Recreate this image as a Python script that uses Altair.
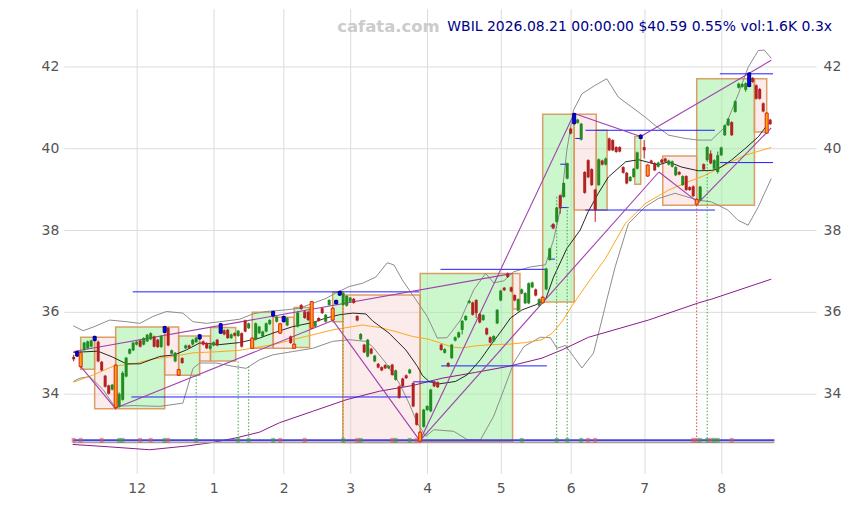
import altair as alt
import pandas as pd

# ---------------- candles (trading-day index 0..199, 2025-11-04 .. 2026-08-21) ----------------
opens = [
    34.90, 34.92, 35.00, 35.07, 35.11, 35.15, 35.30, 35.27, 34.78, 34.44,
    34.20, 34.10, 34.70, 33.69, 33.85, 34.42, 34.98, 35.06, 35.20, 35.30,
    35.20, 35.28, 35.33, 35.40, 35.32, 35.14, 35.50, 35.61, 34.98, 34.79,
    34.59, 34.87, 35.11, 35.18, 35.20, 35.26, 35.34, 35.28, 35.24, 35.10,
    35.18, 35.32, 35.48, 35.55, 35.56, 35.36, 35.48, 35.41, 35.48, 35.79,
    35.60, 35.36, 35.32, 35.48, 35.40, 35.52, 35.70, 35.90, 35.76, 35.71,
    35.76, 35.67, 35.40, 35.21, 35.64, 36.17, 36.01, 36.00, 36.25, 35.64,
    35.85, 36.09, 35.76, 36.17, 36.09, 36.20, 36.41, 36.17, 36.15, 36.25,
    36.32, 35.90, 35.33, 35.20, 34.91, 35.10, 34.79, 34.73, 34.65, 34.70,
    34.62, 34.71, 34.34, 34.18, 34.37, 34.45, 34.50, 34.26, 33.52, 33.06,
    33.19, 33.60, 33.57, 34.28, 34.28, 35.20, 35.00, 34.75, 34.87, 35.30,
    35.38, 35.56, 35.80, 36.22, 36.23, 36.29, 35.95, 35.80, 35.60, 35.38,
    35.28, 35.72, 36.28, 36.59, 36.94, 36.60, 36.41, 36.03, 36.45, 36.21,
    36.21, 36.60, 36.55, 36.15, 36.36, 36.55, 37.27, 38.15, 38.20, 38.85,
    38.81, 39.26, 40.48, 40.60, 40.62, 40.21, 39.42, 39.71, 39.49, 38.99,
    39.10, 39.70, 39.60, 40.24, 40.20, 40.03, 40.03, 39.54, 39.40, 39.20,
    39.30, 39.50, 40.24, 40.03, 39.59, 39.70, 39.64, 39.55, 39.72, 39.75,
    39.60, 39.55, 39.34, 39.42, 39.10, 39.32, 39.05, 39.07, 38.75, 38.73,
    39.61, 39.71, 39.87, 39.50, 39.42, 39.83, 40.32, 40.56, 40.64, 40.89,
    41.48, 41.50, 41.43, 41.51, 41.72, 41.54, 41.45, 41.10, 40.86, 40.70,
]
closes = [
    34.84, 35.03, 34.66, 35.25, 35.28, 35.30, 35.40, 34.79, 34.57, 34.17,
    34.00, 34.22, 33.66, 34.00, 34.51, 34.88, 35.09, 35.25, 35.27, 35.15,
    35.36, 35.44, 35.48, 35.15, 35.14, 35.41, 35.64, 35.18, 35.06, 35.00,
    34.45, 34.75, 35.18, 35.12, 35.32, 35.37, 35.44, 35.20, 35.11, 35.18,
    35.26, 35.18, 35.71, 35.45, 35.36, 35.45, 35.42, 35.54, 35.15, 35.52,
    35.72, 35.11, 35.72, 35.64, 35.52, 35.72, 35.80, 36.01, 35.88, 35.48,
    35.89, 35.85, 35.24, 35.11, 35.99, 36.07, 35.85, 35.80, 35.60, 35.76,
    35.78, 35.97, 35.93, 36.29, 35.80, 36.28, 36.50, 36.46, 36.39, 36.35,
    36.22, 35.79, 35.46, 35.01, 35.32, 34.98, 34.93, 34.64, 34.57, 34.62,
    34.68, 34.46, 34.57, 33.90, 34.18, 34.38, 34.59, 33.69, 33.24, 32.84,
    33.61, 33.70, 34.10, 34.18, 34.16, 35.07, 35.09, 34.67, 35.20, 35.38,
    35.50, 35.78, 35.90, 36.27, 35.93, 35.97, 35.74, 35.92, 35.45, 35.25,
    35.41, 36.05, 36.52, 36.53, 36.85, 36.50, 36.28, 36.31, 36.55, 36.46,
    36.70, 36.72, 36.40, 36.31, 36.22, 37.06, 37.55, 38.04, 38.55, 38.53,
    39.15, 39.63, 40.36, 40.85, 40.70, 40.60, 38.91, 39.29, 39.10, 38.49,
    39.73, 39.60, 39.75, 39.95, 39.95, 39.91, 39.92, 39.40, 39.14, 39.30,
    39.50, 39.90, 40.32, 39.95, 39.32, 39.64, 39.46, 39.65, 39.65, 39.67,
    39.70, 39.68, 39.54, 39.36, 39.32, 38.98, 38.98, 38.83, 38.63, 39.06,
    39.48, 40.03, 39.63, 39.71, 39.83, 40.02, 40.56, 40.72, 40.32, 41.15,
    41.58, 41.57, 41.59, 41.84, 41.62, 41.21, 41.21, 40.90, 40.37, 40.59,
]
highs = [
    34.95, 35.05, 35.02, 35.27, 35.30, 35.32, 35.42, 35.30, 34.80, 34.46,
    34.22, 34.24, 34.72, 34.03, 34.55, 34.90, 35.11, 35.27, 35.29, 35.33,
    35.38, 35.46, 35.50, 35.42, 35.34, 35.43, 35.66, 35.63, 35.08, 35.02,
    34.61, 34.89, 35.20, 35.20, 35.34, 35.39, 35.46, 35.30, 35.26, 35.20,
    35.28, 35.34, 35.73, 35.57, 35.58, 35.47, 35.50, 35.56, 35.50, 35.81,
    35.74, 35.38, 35.74, 35.66, 35.54, 35.74, 35.82, 36.03, 35.90, 35.73,
    35.91, 35.87, 35.42, 35.23, 36.01, 36.19, 36.03, 36.02, 36.27, 35.78,
    35.87, 36.11, 35.95, 36.31, 36.11, 36.30, 36.52, 36.48, 36.41, 36.37,
    36.34, 35.92, 35.48, 35.22, 35.34, 35.12, 34.95, 34.75, 34.67, 34.72,
    34.70, 34.73, 34.59, 34.20, 34.39, 34.47, 34.61, 34.28, 33.54, 33.08,
    33.63, 33.72, 34.12, 34.30, 34.30, 35.22, 35.11, 34.77, 35.22, 35.40,
    35.52, 35.80, 35.92, 36.29, 36.25, 36.31, 35.97, 35.94, 35.62, 35.40,
    35.43, 36.07, 36.54, 36.61, 36.96, 36.62, 36.43, 36.33, 36.57, 36.48,
    36.72, 36.74, 36.57, 36.33, 36.38, 37.08, 37.57, 38.17, 38.57, 38.87,
    39.17, 39.65, 40.50, 40.87, 40.72, 40.62, 39.44, 39.73, 39.51, 39.01,
    39.75, 39.72, 39.77, 40.26, 40.22, 40.05, 40.05, 39.56, 39.42, 39.32,
    39.52, 39.92, 40.34, 40.20, 39.61, 39.72, 39.66, 39.67, 39.74, 39.77,
    39.72, 39.70, 39.56, 39.44, 39.34, 39.34, 39.07, 39.09, 38.77, 39.08,
    39.63, 40.05, 39.95, 39.73, 39.92, 40.04, 40.58, 40.74, 40.66, 41.17,
    41.60, 41.59, 41.61, 41.86, 41.74, 41.56, 41.47, 41.12, 40.88, 40.72,
]
lows = [
    34.79, 34.90, 34.64, 35.05, 35.09, 35.13, 35.28, 34.77, 34.55, 34.15,
    33.98, 34.08, 33.62, 33.66, 33.83, 34.40, 34.96, 35.04, 35.18, 35.13,
    35.18, 35.26, 35.31, 35.13, 35.12, 35.12, 35.48, 35.16, 34.96, 34.77,
    34.44, 34.73, 35.09, 35.10, 35.18, 35.24, 35.32, 35.18, 35.09, 35.08,
    35.16, 35.16, 35.46, 35.43, 35.34, 35.34, 35.40, 35.39, 35.13, 35.50,
    35.58, 35.10, 35.30, 35.46, 35.38, 35.50, 35.68, 35.88, 35.74, 35.46,
    35.74, 35.65, 35.22, 35.10, 35.62, 36.05, 35.83, 35.78, 35.58, 35.62,
    35.76, 35.95, 35.74, 36.15, 35.78, 36.18, 36.39, 36.15, 36.13, 36.23,
    36.20, 35.77, 35.31, 34.99, 34.89, 34.96, 34.77, 34.62, 34.55, 34.60,
    34.60, 34.44, 34.32, 33.88, 34.16, 34.36, 34.48, 33.67, 33.22, 32.82,
    33.17, 33.58, 33.55, 34.16, 34.14, 35.05, 34.98, 34.65, 34.85, 35.28,
    35.36, 35.45, 35.78, 36.20, 35.91, 35.85, 35.72, 35.78, 35.43, 35.23,
    35.26, 35.70, 36.26, 36.51, 36.83, 36.48, 36.26, 36.01, 36.43, 36.19,
    36.19, 36.58, 36.38, 36.13, 36.21, 36.53, 37.25, 38.02, 38.18, 38.40,
    38.79, 39.24, 40.34, 40.58, 40.60, 40.19, 38.89, 39.27, 39.08, 38.20,
    39.08, 39.58, 39.58, 39.93, 39.93, 39.89, 39.90, 39.38, 39.12, 39.18,
    39.28, 39.48, 40.22, 39.75, 39.30, 39.62, 39.44, 39.53, 39.63, 39.65,
    39.58, 39.53, 39.32, 39.34, 39.08, 38.96, 38.96, 38.81, 38.61, 38.71,
    39.46, 39.69, 39.61, 39.48, 39.38, 39.81, 40.30, 40.54, 40.30, 40.87,
    41.46, 41.48, 41.38, 41.49, 41.60, 41.19, 41.19, 40.88, 40.35, 40.57,
]
peak_idx = [1, 6, 26, 36, 42, 57, 60, 75, 76, 143, 162, 193]
trough_idx = [2, 12, 30, 51, 59, 63, 68, 74, 99, 134, 164, 178, 198]

# ---------------- axes ----------------
tick_idx = [18, 40, 60, 79, 101, 122, 142, 163, 185]
tick_lab = ["12", "1", "2", "3", "4", "5", "6", "7", "8"]
y_ticks = [34, 36, 38, 40, 42]

# ---------------- moving averages / bands (index, value) ----------------
ma_fast_i = [-0.1, 6.9, 11, 15.1, 18.9, 24.6, 28.8, 32.2, 36, 41.7, 47.4, 53.1, 56.9, 62.6, 68.3, 72.1, 75.9,
             79.7, 83.5, 85.4, 90.1, 94.9, 98.2, 99.6, 101.5, 104.4, 109.1, 112.4, 116.2, 119.6, 122.4, 124.8,
             128.1, 131.9, 134.8, 137.1, 140.9, 144.7, 147, 149.9, 152.8, 157.7, 161.4, 164.5, 167, 169.9,
             173.7, 178.5, 182.3, 184.2, 187.9, 191.8, 195.6, 198.4, 199]
ma_fast_v = [35.01, 35.04, 34.90, 34.73, 34.73, 34.91, 34.95, 35.07, 35.24, 35.20, 35.25, 35.36, 35.48, 35.64,
             35.74, 35.85, 35.93, 35.97, 35.95, 35.78, 35.48, 35.07, 34.67, 34.45, 34.30, 34.24, 34.30, 34.46,
             34.83, 35.24, 35.56, 35.85, 36.05, 36.17, 36.30, 36.85, 37.55, 38.00, 38.45, 38.90, 39.30, 39.67,
             39.72, 39.65, 39.59, 39.67, 39.54, 39.45, 39.46, 39.50, 39.71, 39.99, 40.28, 40.60, 40.65]
ma_mid_i = [-0.1, 5.6, 11.3, 17, 22.7, 28.4, 34.1, 39.8, 47.4, 56.9, 66.4, 74, 79.7, 82.5, 87.3, 92, 96.8,
            101.5, 108.2, 111, 114.8, 119.6, 124.3, 129.1, 133.8, 136.7, 139.5, 142.4, 145.2, 148.9, 151.9,
            157.6, 163.3, 170, 175.6, 180.4, 186.1, 191.8, 199.3]
ma_mid_v = [34.28, 34.46, 34.67, 34.73, 34.85, 34.91, 35.00, 35.02, 35.06, 35.20, 35.40, 35.56, 35.64, 35.68,
            35.62, 35.52, 35.40, 35.33, 35.14, 35.12, 35.17, 35.20, 35.21, 35.25, 35.32, 35.48, 35.76, 36.15,
            36.50, 36.95, 37.30, 38.16, 38.65, 38.98, 39.18, 39.34, 39.59, 39.83, 40.02]
ma_slow_i = [-0.3, 10.3, 21.7, 32.2, 39.8, 46.4, 53.1, 58.8, 68.3, 77.8, 87.3, 96.8, 105.3, 114.8, 124.3,
             133.8, 139.5, 147.1, 164.2, 178.5, 182.2, 199.3]
ma_slow_v = [32.76, 32.70, 32.63, 32.72, 32.81, 32.92, 33.06, 33.29, 33.57, 33.85, 34.06, 34.20, 34.38, 34.52,
             34.67, 34.87, 35.07, 35.38, 35.80, 36.22, 36.31, 36.80]
bb_up_i = [-0.1, 2.7, 5.6, 10.3, 15.1, 18.9, 22.7, 26.5, 31.2, 34.1, 37.9, 41.7, 47.4, 51.2, 55, 60.7, 64.5,
           68.3, 72.1, 74.9, 78.7, 82.5, 86.3, 89.6, 91.5, 93.9, 97.2, 101, 103.9, 106.7, 110.5, 114.3, 117.7,
           120, 122.9, 125.7, 130.5, 134.8, 137.1, 139, 140.9, 142.8, 145.2, 149, 152.3, 155.6, 159.4, 163.3,
           166.1, 170, 174.7, 178.5, 182.2, 186.1, 189.9, 192.7, 195.6, 197.3, 199.3]
bb_up_v = [35.66, 35.54, 35.63, 35.80, 35.76, 35.72, 35.89, 36.01, 35.97, 35.76, 35.72, 35.76, 35.82, 35.95,
           36.01, 36.05, 36.09, 36.21, 36.33, 36.46, 36.62, 36.70, 36.85, 37.20, 37.15, 36.78, 36.37, 35.89,
           35.36, 35.37, 35.80, 36.54, 36.94, 36.71, 36.76, 36.98, 37.10, 37.15, 37.76, 38.49, 39.95, 40.93,
           41.33, 41.54, 41.70, 41.25, 41.01, 40.76, 40.56, 40.32, 40.24, 40.20, 40.20, 40.52, 41.33, 41.98,
           42.39, 42.40, 42.20]
bb_lo_i = [-0.1, 1.8, 4.6, 8.4, 11.7, 17, 24.6, 31.2, 34.1, 36, 40.7, 45.5, 49.3, 53.1, 56.9, 62.6, 68.3, 74,
           78.7, 83.5, 85.4, 89.2, 93, 95.8, 98.2, 100.6, 102.9, 108.6, 112.4, 116.2, 120, 122.9, 125.7, 128.6,
           133.3, 136.2, 138.1, 140.5, 142.8, 145.2, 148.5, 151.4, 152.3, 154.7, 158.5, 163.3, 167, 171.8,
           178.5, 182.2, 186.9, 189.8, 192.7, 195.6, 199.3]
bb_lo_v = [34.30, 34.38, 34.42, 34.10, 33.69, 33.71, 33.69, 33.77, 34.62, 34.75, 34.75, 34.67, 34.62, 34.83,
           34.95, 35.03, 35.11, 35.28, 35.32, 35.28, 35.15, 34.75, 34.26, 33.77, 33.28, 32.96, 33.12, 33.08,
           32.88, 32.87, 33.45, 34.10, 34.75, 35.15, 35.38, 35.37, 35.11, 35.18, 34.91, 34.63, 34.99, 35.97,
           36.29, 37.10, 38.16, 38.57, 38.77, 38.90, 38.73, 38.69, 38.49, 38.24, 38.12, 38.57, 39.26]

# ---------------- swing boxes ----------------
box_x1 = [2, 6, 12, 26, 30, 36, 39.1, 51, 57, 63, 74, 76.9, 99, 125.4, 134, 143, 149.3, 160.3, 168.3, 178, 194.5]
box_x2 = [6, 12, 26, 30, 36, 39.1, 46.3, 57, 63, 67.4, 76.9, 99, 125.4, 127.5, 143, 149.3, 152.4, 162, 178, 194.5, 198]
box_lo = [34.60, 33.63, 33.63, 34.46, 34.45, 34.80, 34.80, 35.11, 35.11, 35.13, 35.76, 32.81, 32.84, 36.07,
          36.24, 38.49, 38.49, 39.12, 38.61, 38.61, 40.40]
box_hi = [35.38, 35.38, 35.63, 35.63, 35.41, 35.41, 35.62, 35.99, 35.87, 36.11, 36.48, 36.41, 36.94, 36.94,
          40.83, 40.83, 40.44, 40.29, 39.81, 41.70, 41.70]
box_dir = ["up", "down", "up", "down", "up", "down", "up", "up", "down", "up", "up", "down", "up", "down",
           "up", "down", "up", "up", "down", "up", "down"]

# ---------------- support / resistance levels ----------------
hl_y = [36.49, 33.92, 34.29, 34.68, 37.04, 40.44, 38.49, 41.82, 39.65, 39.61, 38.55, 38.10, 37.29, 40.24]
hl_x1 = [16.9, 16.5, 97, 105, 104.8, 146.2, 146.2, 184.6, 184.6, 139, 139, 136.2, 136, 143.3]
hl_x2 = [98.7, 96.3, 103.4, 135.2, 135.2, 183.2, 183.2, 199.8, 199.8, 141.4, 141.4, 137.6, 137.5, 145.2]

# ---------------- zigzag / channel segments ----------------
zz_x1 = [2, 0, 12, 74, 99, 99, 143, 162, 167.2, 178.5]
zz_y1 = [34.67, 35.03, 33.65, 35.80, 32.86, 32.86, 40.85, 40.29, 39.42, 38.67]
zz_x2 = [12, 125.4, 74, 99, 143, 167.2, 162, 199.3, 178.5, 199.3]
zz_y2 = [33.63, 36.94, 35.79, 32.84, 40.85, 39.42, 40.29, 42.15, 38.67, 40.50]

# ---------------- signal drop lines ----------------
dot_i = [35, 47, 50, 77, 99, 138, 141, 178, 181]
dot_top = [34.44, 34.79, 34.67, 36.10, 32.95, 38.81, 38.57, 38.61, 39.70]
dot_kind = ["buy", "buy", "buy", "olive", "sell", "buy", "buy", "sell", "buy"]

# ---------------- baseline signal markers ----------------
mark_i = [0, 2, 8, 13, 14, 19, 22, 26, 27, 35, 47, 50, 57, 59, 66, 77, 81, 82, 91, 92, 96, 98, 99,
          128, 138, 141, 145, 147, 149, 177, 178, 179, 181, 182, 183, 184, 188]
mark_kind = ["s", "s", "s", "b", "b", "s", "s", "b", "s", "b", "b", "b", "b", "s", "s", "b", "s", "b", "s",
             "b", "b", "s", "s", "b", "b", "b", "b", "s", "s", "s", "s", "b", "b", "s", "b", "b", "s"]
base_level = 32.86
base_span = [-0.2, 200.2]

title_text = "WBIL 2026.08.21 00:00:00 $40.59 0.55% vol:1.6K 0.3x"
watermark = "cafata.com"

# ---------------- styling maps ----------------
CANDLE_COL = {"u": "#228b22", "d": "#b22222", "p": "#0000ff", "t": "#cc2222"}
BODY_FILL = {"u": "#228b22", "d": "#b22222", "p": "#0000ff", "t": "#ffa500"}
BODY_STROKE = {"u": "#228b22", "d": "#b22222", "p": "#000070", "t": "#dd2222"}
DOT_COL = {"buy": "#3aa83a", "sell": "#d04848", "olive": "#9a9a20"}
MARK_COL = {"b": "#3f9a3f", "s": "#d05a60"}
BOX_FILL = {"up": "#99ee99", "down": "#f7c6c6"}
BOX_OP = {"up": 0.5, "down": 0.35}

# ---------------- build tables ----------------
n = len(closes)
kinds = []
for k in range(n):
    if k in peak_idx:
        kinds.append("p")
    elif k in trough_idx:
        kinds.append("t")
    elif closes[k] >= opens[k]:
        kinds.append("u")
    else:
        kinds.append("d")
cdf = pd.DataFrame({"i": list(range(n)), "open": opens, "close": closes, "high": highs, "low": lows,
                    "kind": kinds})
cdf["col"] = [CANDLE_COL[k] for k in kinds]
cdf["fillc"] = [BODY_FILL[k] for k in kinds]
cdf["strokec"] = [BODY_STROKE[k] for k in kinds]
cdf["special"] = [k in ("p", "t") for k in kinds]

def series_df(xs_, vs_):
    return pd.DataFrame({"i": xs_, "v": vs_})

box_df = pd.DataFrame({"x1": box_x1, "x2": box_x2, "lo": box_lo, "hi": box_hi, "dir": box_dir})
box_df["fillc"] = [BOX_FILL[d] for d in box_dir]
box_df["op"] = [BOX_OP[d] for d in box_dir]
hl_df = pd.DataFrame({"y": hl_y, "x1": hl_x1, "x2": hl_x2})
zz_df = pd.DataFrame({"x1": zz_x1, "y1": zz_y1, "x2": zz_x2, "y2": zz_y2})
dot_df = pd.DataFrame({"i": dot_i, "top": dot_top, "bot": [base_level] * len(dot_i),
                       "col": [DOT_COL[k] for k in dot_kind]})
mk_df = pd.DataFrame({"i": mark_i, "col": [MARK_COL[k] for k in mark_kind],
                      "y1": [base_level - 0.06] * len(mark_i), "y2": [base_level + 0.06] * len(mark_i)})
base_df = pd.DataFrame({"x1": [base_span[0]], "x2": [base_span[1]], "y": [base_level],
                        "y_lo": [base_level - 0.05]})

# ---------------- scales / axes ----------------
FONT = "DejaVu Sans"
xs = alt.Scale(domain=[-2.8, 212.1], nice=False, zero=False, padding=0)
ys = alt.Scale(domain=[32.05, 43.415], nice=False, zero=False, padding=0)

expr = "''"
for t, l in reversed(list(zip(tick_idx, tick_lab))):
    expr = f"datum.value == {t} ? '{l}' : ({expr})"

xax = alt.Axis(values=tick_idx, labelExpr=expr, grid=True, gridColor="#dcdcdc", gridWidth=1,
               ticks=False, domain=False, labelColor="#555555", labelFontSize=14, labelFont=FONT,
               labelPadding=8, title=None)
yax = alt.Axis(values=y_ticks, grid=True, gridColor="#dcdcdc", gridWidth=1, ticks=False, domain=False,
               labelColor="#555555", labelFontSize=14, labelFont=FONT, labelPadding=5,
               minExtent=56, maxExtent=56, title=None, orient="left")
yax_r = alt.Axis(values=y_ticks, grid=False, ticks=False, domain=False, labelColor="#555555",
                 labelFontSize=14, labelFont=FONT, labelPadding=7, title=None, orient="right",
                 minExtent=22, maxExtent=22)

def X(f):
    return alt.X(f, type="quantitative", scale=xs, axis=xax)

def Y(f):
    return alt.Y(f, type="quantitative", scale=ys, axis=yax)

layers = []

# boxes
layers.append(alt.Chart(box_df).mark_rect(stroke="#d8955a", strokeWidth=1.5, strokeOpacity=0.9).encode(
    x=X("x1"), x2="x2", y=Y("lo"), y2="hi",
    fill=alt.Fill("fillc:N", scale=None),
    fillOpacity=alt.FillOpacity("op:Q", scale=None),
))

# indicator lines
def line_layer(xv, vv, color, width):
    return alt.Chart(series_df(xv, vv)).mark_line(color=color, strokeWidth=width, clip=True).encode(
        x=X("i"), y=Y("v"))

layers.append(line_layer(bb_up_i, bb_up_v, "#8c8c8c", 1))
layers.append(line_layer(bb_lo_i, bb_lo_v, "#8c8c8c", 1))
layers.append(line_layer(ma_slow_i, ma_slow_v, "#8b1a8b", 1))
layers.append(line_layer(ma_mid_i, ma_mid_v, "#ffa620", 1))
layers.append(line_layer(ma_fast_i, ma_fast_v, "#111111", 0.9))

# support / resistance
layers.append(alt.Chart(hl_df).mark_rule(color="#1f1fff", strokeWidth=1).encode(
    x=X("x1"), x2="x2", y=Y("y")))

# zigzag / channels
layers.append(alt.Chart(zz_df).mark_rule(color="#a040b0", strokeWidth=1.1).encode(
    x=X("x1"), x2="x2", y=Y("y1"), y2="y2"))

# drop lines
layers.append(alt.Chart(dot_df).mark_rule(strokeWidth=1, strokeDash=[1.5, 1.8]).encode(
    x=X("i"), y=Y("top"), y2="bot", color=alt.Color("col:N", scale=None)))

# baseline
layers.append(alt.Chart(base_df).mark_rule(color="#b09a9a", strokeWidth=1.5).encode(
    x=X("x1"), x2="x2", y=Y("y_lo")))
layers.append(alt.Chart(base_df).mark_rule(color="#4444d8", strokeWidth=2).encode(
    x=X("x1"), x2="x2", y=Y("y")))
layers.append(alt.Chart(mk_df).mark_bar(size=4, opacity=0.6).encode(
    x=X("i"), y=Y("y1"), y2="y2", color=alt.Color("col:N", scale=None)))

# candles
layers.append(alt.Chart(cdf).mark_rule(strokeWidth=1).encode(
    x=X("i"), y=Y("low"), y2="high", color=alt.Color("col:N", scale=None)))
layers.append(alt.Chart(cdf).transform_filter("!datum.special").mark_bar(size=3).encode(
    x=X("i"), y=Y("open"), y2="close", color=alt.Color("col:N", scale=None)))
layers.append(alt.Chart(cdf).transform_filter("datum.special").mark_bar(size=3, strokeWidth=1).encode(
    x=X("i"), y=Y("open"), y2="close",
    fill=alt.Fill("fillc:N", scale=None), stroke=alt.Stroke("strokec:N", scale=None)))

# texts
layers.append(alt.Chart(pd.DataFrame({"t": [watermark]})).mark_text(
    align="left", baseline="middle", font=FONT, fontSize=16.5, fontWeight="bold", color="#cccccc").encode(
    x=alt.value(274), y=alt.value(18), text="t:N"))
layers.append(alt.Chart(pd.DataFrame({"t": [title_text]})).mark_text(
    align="right", baseline="middle", font=FONT, fontSize=14, color="#000088").encode(
    x=alt.value(770), y=alt.value(18), text="t:N"))

inner = alt.layer(*layers)
right_axis = alt.Chart(pd.DataFrame({"v": y_ticks})).mark_rule(opacity=0).encode(
    y=alt.Y("v:Q", scale=ys, axis=yax_r))

chart = alt.layer(inner, right_axis).resolve_axis(y="independent").properties(
    width=754, height=466, padding=0, background="white"
).configure_view(stroke=None)

chart.save("out.html", embed_options={"renderer": "svg", "actions": False})
